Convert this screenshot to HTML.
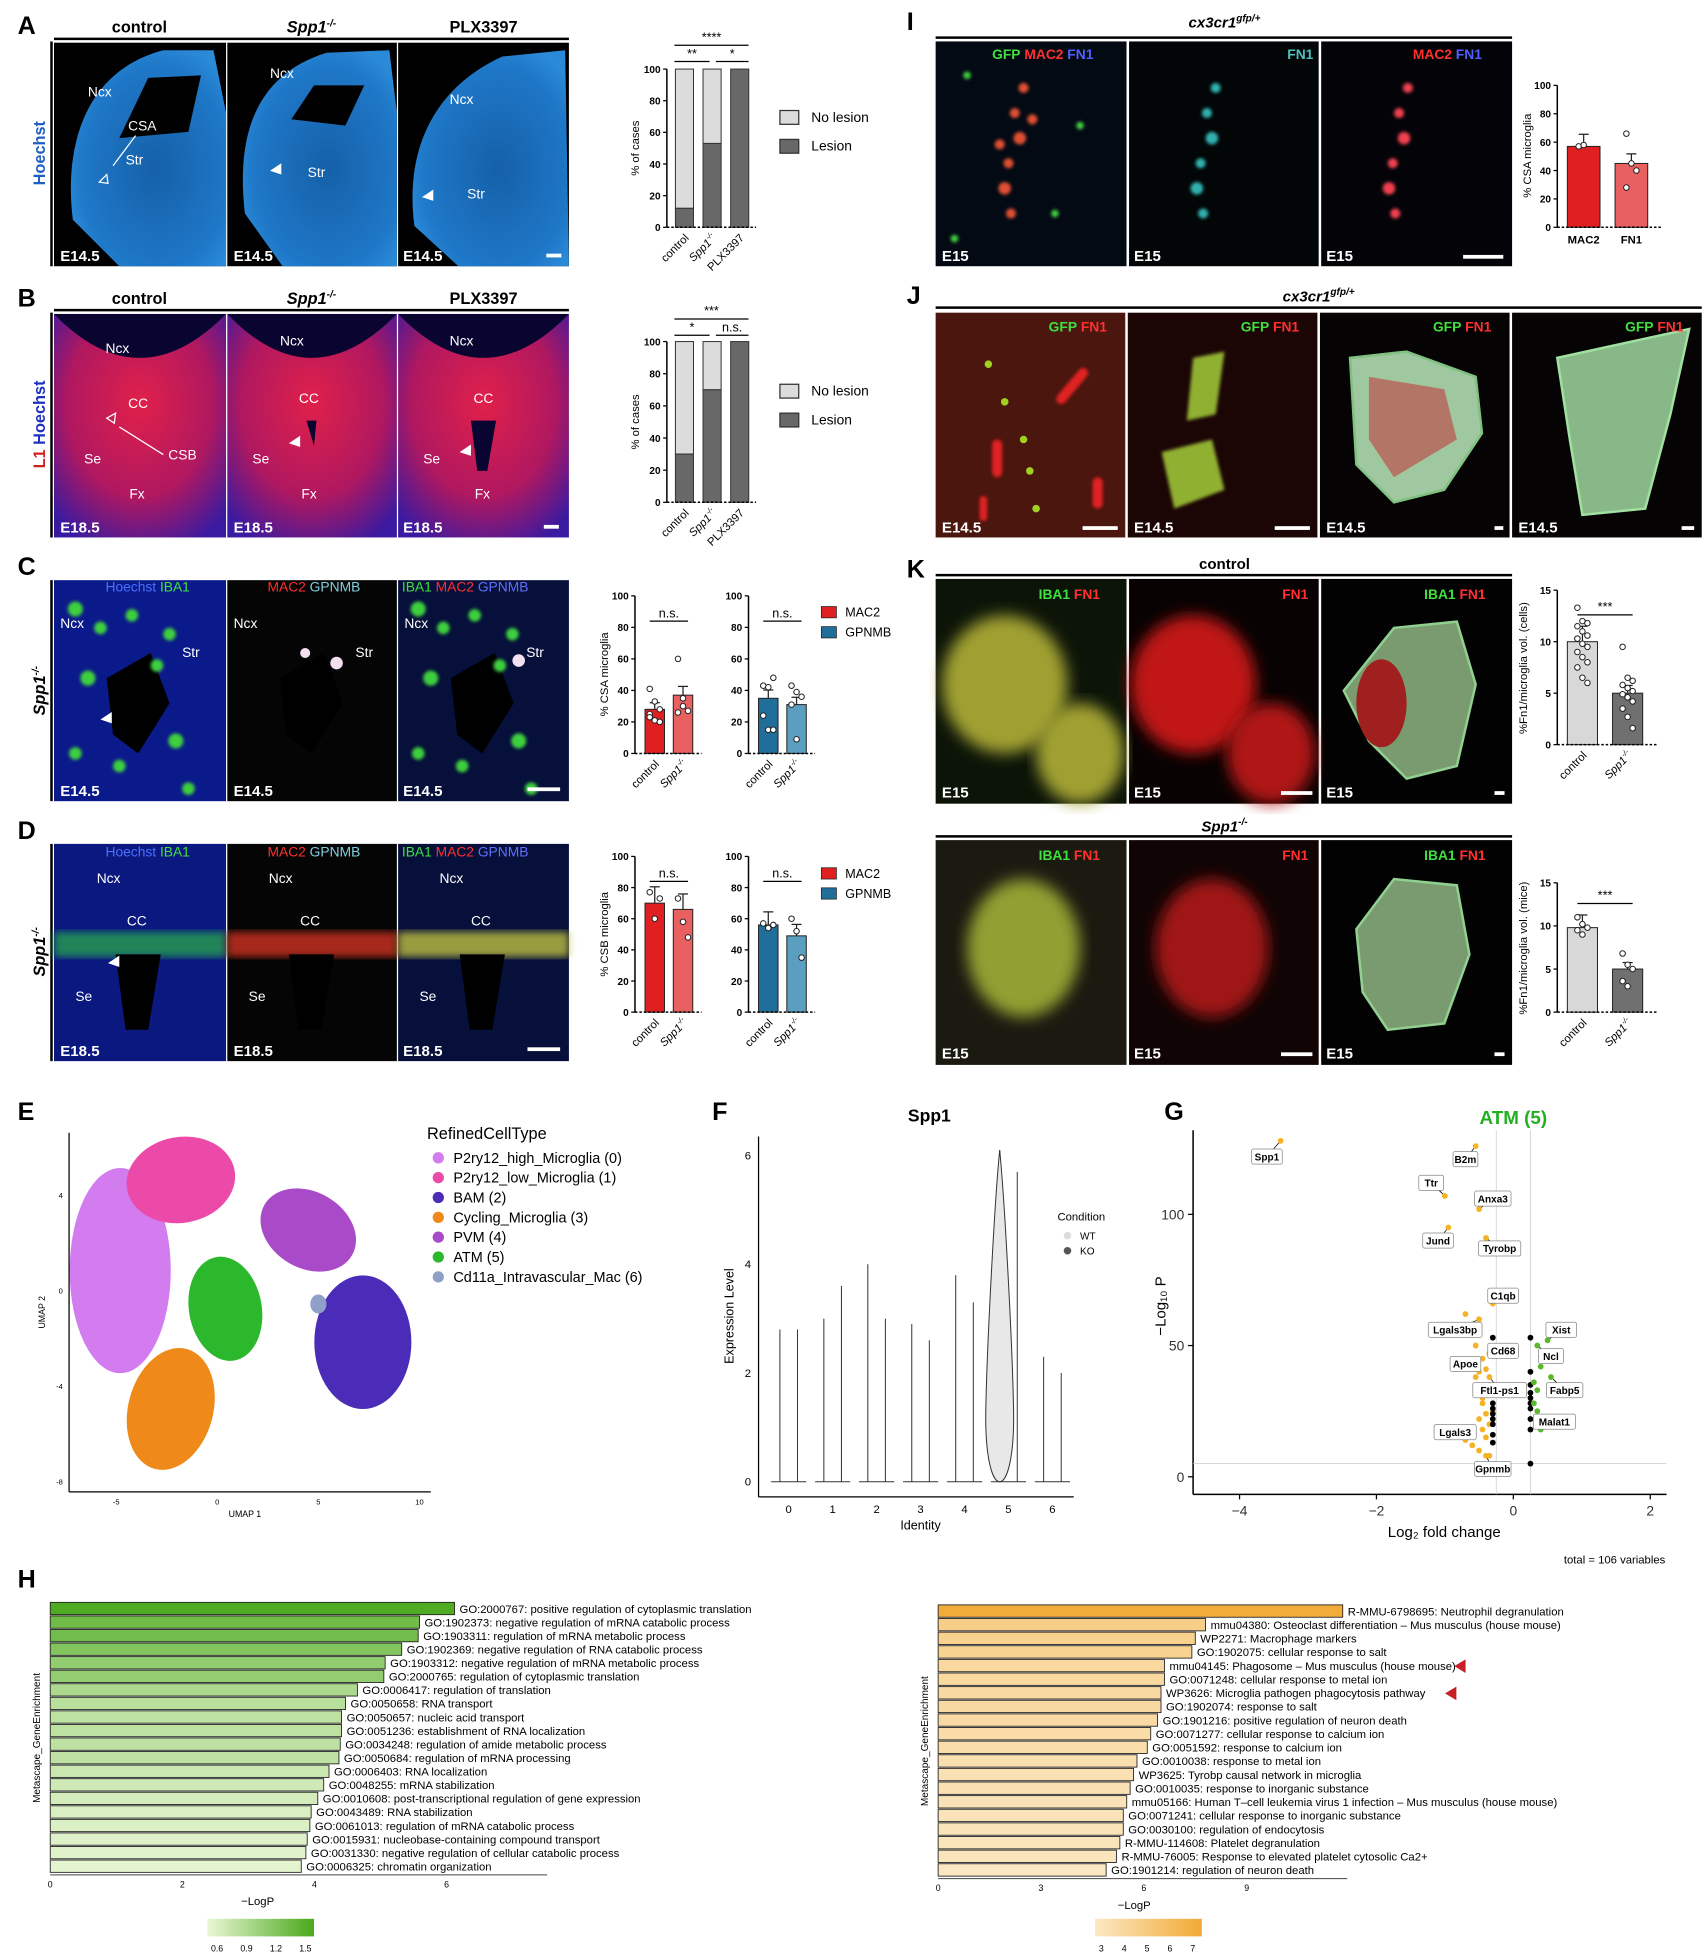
<!DOCTYPE html>
<html><head><meta charset="utf-8">
<style>
html,body{margin:0;padding:0;background:#fff;}
#fig{display:block;font-family:"Liberation Sans",Arial,sans-serif;}
text{font-family:"Liberation Sans",Arial,sans-serif;}
</style></head>
<body>
<svg id="fig" xmlns="http://www.w3.org/2000/svg" width="1708" height="1959" viewBox="0 0 1360 1560" preserveAspectRatio="none">
<defs>
<filter id="blur3"><feGaussianBlur stdDeviation="3"/></filter>
<filter id="blur6"><feGaussianBlur stdDeviation="6"/></filter>
<filter id="blur1"><feGaussianBlur stdDeviation="1.2"/></filter>
<linearGradient id="gG" x1="0" x2="1"><stop offset="0" stop-color="#eaf7d6"/><stop offset="1" stop-color="#4aa81c"/></linearGradient>
<linearGradient id="gO" x1="0" x2="1"><stop offset="0" stop-color="#fbe8c4"/><stop offset="1" stop-color="#f2aa35"/></linearGradient>
<radialGradient id="brainA" cx="0.55" cy="0.55" r="0.6"><stop offset="0" stop-color="#1560a8"/><stop offset="0.8" stop-color="#1f78c8"/><stop offset="1" stop-color="#2a8ad8"/></radialGradient>
<radialGradient id="brainB" cx="0.5" cy="0.4" r="0.7"><stop offset="0" stop-color="#e0204a"/><stop offset="0.6" stop-color="#b01860"/><stop offset="1" stop-color="#3a1aa0"/></radialGradient>
</defs>

<!-- ===== Panel A images ===== -->
<g>
<text x="14" y="27" font-size="20" font-weight="bold">A</text>
<text x="111" y="26" font-size="13" font-weight="bold" text-anchor="middle">control</text>
<text x="248" y="26" font-size="13" font-weight="bold" font-style="italic" text-anchor="middle">Spp1<tspan font-size="8" dy="-5">-/-</tspan></text>
<text x="385" y="26" font-size="13" font-weight="bold" text-anchor="middle">PLX3397</text>
<line x1="43" y1="31" x2="453" y2="31" stroke="#000" stroke-width="2"/>
<line x1="41" y1="33" x2="41" y2="212" stroke="#000" stroke-width="2"/>
<text transform="translate(36,122) rotate(-90)" font-size="13" font-weight="bold" fill="#2060c0" text-anchor="middle">Hoechst</text>
<rect x="43" y="34" width="137" height="178" fill="#000"/>
<rect x="181" y="34" width="135" height="178" fill="#000"/>
<rect x="317" y="34" width="136" height="178" fill="#000"/>
<path d="M58 175 C50 110 72 55 130 40 L170 40 L180 90 L180 212 L95 212 Z" fill="url(#brainA)"/>
<path d="M95 110 L118 62 L160 60 L150 105 Z" fill="#000"/>
<path d="M195 170 C188 110 202 60 260 42 L310 40 L316 90 L316 212 L225 212 Z" fill="url(#brainA)"/>
<path d="M232 95 L250 68 L290 68 L275 100 Z" fill="#000"/>
<path d="M330 180 C322 120 345 70 400 45 L450 40 L453 212 L365 212 Z" fill="url(#brainA)"/>
<g fill="#fff" font-size="11">
<text x="70" y="77">Ncx</text><text x="102" y="104">CSA</text><text x="100" y="131">Str</text>
<text x="215" y="62">Ncx</text><text x="245" y="141">Str</text>
<text x="358" y="83">Ncx</text><text x="372" y="158">Str</text>
<text x="48" y="208" font-weight="bold" font-size="12">E14.5</text>
<text x="186" y="208" font-weight="bold" font-size="12">E14.5</text>
<text x="321" y="208" font-weight="bold" font-size="12">E14.5</text>
</g>
<rect x="435" y="202" width="12" height="3" fill="#fff"/>
<line x1="108" y1="108" x2="90" y2="132" stroke="#fff"/>
<polygon points="79,145 85,139 86,146" fill="none" stroke="#fff"/>
<polygon points="215,136 224,130 224,139" fill="#fff"/>
<polygon points="336,157 345,151 345,160" fill="#fff"/>
</g>

<!-- ===== Panel B images ===== -->
<g>
<text x="14" y="244" font-size="20" font-weight="bold">B</text>
<text x="111" y="242" font-size="13" font-weight="bold" text-anchor="middle">control</text>
<text x="248" y="242" font-size="13" font-weight="bold" font-style="italic" text-anchor="middle">Spp1<tspan font-size="8" dy="-5">-/-</tspan></text>
<text x="385" y="242" font-size="13" font-weight="bold" text-anchor="middle">PLX3397</text>
<line x1="43" y1="247" x2="453" y2="247" stroke="#000" stroke-width="2"/>
<line x1="41" y1="249" x2="41" y2="428" stroke="#000" stroke-width="2"/>
<text transform="translate(36,338) rotate(-90)" font-size="13" font-weight="bold" text-anchor="middle"><tspan fill="#d02020">L1 </tspan><tspan fill="#2030c0">Hoechst</tspan></text>
<rect x="43" y="250" width="137" height="178" fill="url(#brainB)"/>
<rect x="181" y="250" width="135" height="178" fill="url(#brainB)"/>
<rect x="317" y="250" width="136" height="178" fill="url(#brainB)"/>
<g fill="#0a0530">
<path d="M43 250 Q111 320 180 250 Z"/><path d="M181 250 Q248 320 316 250 Z"/><path d="M317 250 Q385 320 453 250 Z"/>
<path d="M375 335 L395 335 L388 375 L380 375 Z"/>
<path d="M244 335 L252 335 L250 355 Z"/>
</g>
<g fill="#fff" font-size="11">
<text x="84" y="281">Ncx</text><text x="102" y="325">CC</text><text x="67" y="369">Se</text><text x="134" y="366">CSB</text><text x="103" y="397">Fx</text>
<text x="223" y="275">Ncx</text><text x="238" y="321">CC</text><text x="201" y="369">Se</text><text x="240" y="397">Fx</text>
<text x="358" y="275">Ncx</text><text x="377" y="321">CC</text><text x="337" y="369">Se</text><text x="378" y="397">Fx</text>
<text x="48" y="424" font-weight="bold" font-size="12">E18.5</text>
<text x="186" y="424" font-weight="bold" font-size="12">E18.5</text>
<text x="321" y="424" font-weight="bold" font-size="12">E18.5</text>
</g>
<line x1="130" y1="362" x2="95" y2="340" stroke="#fff"/>
<polygon points="85,333 92,329 91,337" fill="none" stroke="#fff"/>
<polygon points="230,353 239,347 239,356" fill="#fff"/>
<polygon points="366,360 375,354 375,363" fill="#fff"/>
<rect x="433" y="418" width="12" height="3" fill="#fff"/>
</g>

<!-- ===== Panel C/D images ===== -->
<g>
<text x="14" y="458" font-size="20" font-weight="bold">C</text>
<line x1="41" y1="462" x2="41" y2="638" stroke="#000" stroke-width="2"/>
<text transform="translate(36,550) rotate(-90)" font-size="13" font-weight="bold" font-style="italic" text-anchor="middle">Spp1<tspan font-size="8" dy="-5">-/-</tspan></text>
<rect x="43" y="462" width="137" height="176" fill="#0b1a8a"/>
<rect x="181" y="462" width="135" height="176" fill="#050505"/>
<rect x="317" y="462" width="136" height="176" fill="#06103a"/>
<path d="M85 540 L120 520 L135 560 L110 600 L90 585 Z" fill="#000"/>
<path d="M223 540 L258 520 L273 560 L248 600 L228 585 Z" fill="#000"/>
<path d="M359 540 L394 520 L409 560 L384 600 L364 585 Z" fill="#000"/>
<g fill="#3ccf3c" filter="url(#blur1)">
<circle cx="60" cy="485" r="6"/><circle cx="80" cy="500" r="5"/><circle cx="105" cy="490" r="5"/><circle cx="135" cy="505" r="5"/><circle cx="70" cy="540" r="6"/><circle cx="125" cy="530" r="5"/><circle cx="95" cy="610" r="5"/><circle cx="140" cy="590" r="6"/><circle cx="60" cy="600" r="5"/><circle cx="150" cy="628" r="5"/>
<circle cx="333" cy="485" r="6"/><circle cx="353" cy="500" r="5"/><circle cx="378" cy="490" r="5"/><circle cx="408" cy="505" r="5"/><circle cx="343" cy="540" r="6"/><circle cx="398" cy="530" r="5"/><circle cx="368" cy="610" r="5"/><circle cx="413" cy="590" r="6"/><circle cx="333" cy="600" r="5"/><circle cx="423" cy="628" r="5"/>
</g>
<g fill="#f0e0f0"><circle cx="268" cy="528" r="5"/><circle cx="243" cy="520" r="4"/><circle cx="413" cy="526" r="5"/></g>
<g fill="#fff" font-size="11">
<text x="84" y="471" fill="#4a70ff">Hoechst <tspan fill="#40e040">IBA1</tspan></text>
<text x="213" y="471" fill="#ff3030">MAC2 <tspan fill="#80d0e0">GPNMB</tspan></text>
<text x="320" y="471" fill="#40e040">IBA1 <tspan fill="#ff3030">MAC2</tspan> <tspan fill="#6070ff">GPNMB</tspan></text>
<text x="48" y="500">Ncx</text><text x="145" y="523">Str</text>
<text x="186" y="500">Ncx</text><text x="283" y="523">Str</text>
<text x="322" y="500">Ncx</text><text x="419" y="523">Str</text>
<text x="48" y="634" font-weight="bold" font-size="12">E14.5</text>
<text x="186" y="634" font-weight="bold" font-size="12">E14.5</text>
<text x="321" y="634" font-weight="bold" font-size="12">E14.5</text>
</g>
<polygon points="80,573 89,567 89,576" fill="#fff"/>
<rect x="420" y="627" width="26" height="3" fill="#fff"/>
</g>
<g>
<text x="14" y="668" font-size="20" font-weight="bold">D</text>
<line x1="41" y1="672" x2="41" y2="845" stroke="#000" stroke-width="2"/>
<text transform="translate(36,758) rotate(-90)" font-size="13" font-weight="bold" font-style="italic" text-anchor="middle">Spp1<tspan font-size="8" dy="-5">-/-</tspan></text>
<rect x="43" y="672" width="137" height="173" fill="#0a1880"/>
<rect x="181" y="672" width="135" height="173" fill="#050505"/>
<rect x="317" y="672" width="136" height="173" fill="#06103a"/>
<rect x="43" y="742" width="137" height="20" fill="#28a050" opacity="0.8" filter="url(#blur3)"/>
<rect x="181" y="742" width="135" height="20" fill="#d03020" opacity="0.8" filter="url(#blur3)"/>
<rect x="317" y="742" width="136" height="20" fill="#c0c040" opacity="0.8" filter="url(#blur3)"/>
<path d="M92 760 L128 760 L118 820 L100 820 Z" fill="#000"/>
<path d="M230 760 L266 760 L256 820 L238 820 Z" fill="#000"/>
<path d="M366 760 L402 760 L392 820 L374 820 Z" fill="#000"/>
<g fill="#fff" font-size="11">
<text x="84" y="682" fill="#4a70ff">Hoechst <tspan fill="#40e040">IBA1</tspan></text>
<text x="213" y="682" fill="#ff3030">MAC2 <tspan fill="#80d0e0">GPNMB</tspan></text>
<text x="320" y="682" fill="#40e040">IBA1 <tspan fill="#ff3030">MAC2</tspan> <tspan fill="#6070ff">GPNMB</tspan></text>
<text x="77" y="703">Ncx</text><text x="101" y="737">CC</text><text x="60" y="797">Se</text>
<text x="214" y="703">Ncx</text><text x="239" y="737">CC</text><text x="198" y="797">Se</text>
<text x="350" y="703">Ncx</text><text x="375" y="737">CC</text><text x="334" y="797">Se</text>
<text x="48" y="841" font-weight="bold" font-size="12">E18.5</text>
<text x="186" y="841" font-weight="bold" font-size="12">E18.5</text>
<text x="321" y="841" font-weight="bold" font-size="12">E18.5</text>
</g>
<polygon points="86,767 95,761 95,770" fill="#fff"/>
<rect x="420" y="834" width="26" height="3" fill="#fff"/>
</g>

<!-- ===== Panel I / J / K images ===== -->
<g>
<text x="722" y="24" font-size="20" font-weight="bold">I</text>
<text x="975" y="22" font-size="12" font-weight="bold" font-style="italic" text-anchor="middle">cx3cr1<tspan font-size="8" dy="-5">gfp/+</tspan></text>
<line x1="745" y1="30" x2="1204" y2="30" stroke="#000" stroke-width="2"/>
<rect x="745" y="33" width="152" height="179" fill="#040a14"/>
<rect x="899" y="33" width="151" height="179" fill="#020606"/>
<rect x="1052" y="33" width="152" height="179" fill="#040408"/>
<g filter="url(#blur1)">
<g fill="#e05030"><circle cx="815" cy="70" r="4"/><circle cx="808" cy="90" r="4"/><circle cx="812" cy="110" r="5"/><circle cx="803" cy="130" r="4"/><circle cx="800" cy="150" r="5"/><circle cx="805" cy="170" r="4"/><circle cx="822" cy="95" r="4"/><circle cx="796" cy="115" r="4"/></g>
<g fill="#40d040"><circle cx="770" cy="60" r="3"/><circle cx="860" cy="100" r="3"/><circle cx="840" cy="170" r="3"/><circle cx="760" cy="190" r="3"/></g>
<g fill="#30b0b0"><circle cx="968" cy="70" r="4"/><circle cx="961" cy="90" r="4"/><circle cx="965" cy="110" r="5"/><circle cx="956" cy="130" r="4"/><circle cx="953" cy="150" r="5"/><circle cx="958" cy="170" r="4"/></g>
<g fill="#f04050"><circle cx="1121" cy="70" r="4"/><circle cx="1114" cy="90" r="4"/><circle cx="1118" cy="110" r="5"/><circle cx="1109" cy="130" r="4"/><circle cx="1106" cy="150" r="5"/><circle cx="1111" cy="170" r="4"/></g>
</g>
<g font-size="11" font-weight="bold">
<text x="790" y="47"><tspan fill="#40e040">GFP</tspan> <tspan fill="#ff3030">MAC2</tspan> <tspan fill="#5060ff">FN1</tspan></text>
<text x="1025" y="47" fill="#50c0c0">FN1</text>
<text x="1125" y="47"><tspan fill="#ff3030">MAC2</tspan> <tspan fill="#5060ff">FN1</tspan></text>
<text x="750" y="208" fill="#fff" font-size="12">E15</text>
<text x="903" y="208" fill="#fff" font-size="12">E15</text>
<text x="1056" y="208" fill="#fff" font-size="12">E15</text>
</g>
<rect x="1165" y="203" width="32" height="3" fill="#fff"/>
</g>

<g>
<text x="722" y="242" font-size="20" font-weight="bold">J</text>
<text x="1050" y="240" font-size="12" font-weight="bold" font-style="italic" text-anchor="middle">cx3cr1<tspan font-size="8" dy="-5">gfp/+</tspan></text>
<line x1="745" y1="245" x2="1355" y2="245" stroke="#000" stroke-width="2"/>
<rect x="745" y="249" width="151" height="179" fill="#4a160e"/>
<rect x="898" y="249" width="151" height="179" fill="#1c0505"/>
<rect x="1051" y="249" width="151" height="179" fill="#050303"/>
<rect x="1204" y="249" width="151" height="179" fill="#050303"/>
<g fill="#e02020" filter="url(#blur1)"><rect x="790" y="350" width="8" height="30" rx="4"/><rect x="850" y="290" width="8" height="35" rx="4" transform="rotate(40 854 307)"/><rect x="780" y="395" width="6" height="20" rx="3"/><rect x="870" y="380" width="8" height="25" rx="4"/></g>
<g fill="#a0d020"><circle cx="787" cy="290" r="3"/><circle cx="800" cy="320" r="3"/><circle cx="815" cy="350" r="3"/><circle cx="820" cy="375" r="3"/><circle cx="825" cy="405" r="3"/></g>
<path d="M950 285 L975 280 L968 330 L945 335 Z" fill="#90b030" filter="url(#blur1)"/>
<path d="M925 360 L965 350 L975 390 L935 405 Z" fill="#90b030" filter="url(#blur1)"/>
<path d="M1075 285 L1120 280 L1175 300 L1180 345 L1150 390 L1110 400 L1080 370 Z" fill="#a0c8a0" stroke="#80c080" stroke-width="2"/>
<path d="M1090 300 L1150 310 L1160 350 L1110 380 L1090 350 Z" fill="#c04040" opacity="0.6"/>
<path d="M1240 285 L1345 262 L1330 330 L1310 405 L1260 410 L1250 350 Z" fill="#88b888" stroke="#a0e0a0" stroke-width="2"/>
<g font-size="11" font-weight="bold">
<text x="835" y="264"><tspan fill="#40e040">GFP</tspan> <tspan fill="#ff3030">FN1</tspan></text>
<text x="988" y="264"><tspan fill="#40e040">GFP</tspan> <tspan fill="#ff3030">FN1</tspan></text>
<text x="1141" y="264"><tspan fill="#40e040">GFP</tspan> <tspan fill="#ff3030">FN1</tspan></text>
<text x="1294" y="264"><tspan fill="#40e040">GFP</tspan> <tspan fill="#ff3030">FN1</tspan></text>
<text x="750" y="424" fill="#fff" font-size="12">E14.5</text>
<text x="903" y="424" fill="#fff" font-size="12">E14.5</text>
<text x="1056" y="424" fill="#fff" font-size="12">E14.5</text>
<text x="1209" y="424" fill="#fff" font-size="12">E14.5</text>
</g>
<rect x="862" y="419" width="28" height="3" fill="#fff"/><rect x="1015" y="419" width="28" height="3" fill="#fff"/><rect x="1190" y="419" width="7" height="3" fill="#fff"/><rect x="1339" y="419" width="10" height="3" fill="#fff"/>
</g>

<g>
<text x="722" y="460" font-size="20" font-weight="bold">K</text>
<text x="975" y="453" font-size="12" font-weight="bold" text-anchor="middle">control</text>
<line x1="745" y1="458" x2="1204" y2="458" stroke="#000" stroke-width="2"/>
<rect x="745" y="461" width="152" height="179" fill="#0c1408"/>
<rect x="899" y="461" width="151" height="179" fill="#080202"/>
<rect x="1052" y="461" width="152" height="179" fill="#020202"/>
<ellipse cx="800" cy="545" rx="50" ry="55" fill="#a0a030" filter="url(#blur6)"/>
<ellipse cx="860" cy="600" rx="35" ry="40" fill="#a0a030" filter="url(#blur6)"/>
<ellipse cx="950" cy="545" rx="50" ry="55" fill="#c01818" filter="url(#blur6)"/>
<ellipse cx="1012" cy="600" rx="35" ry="40" fill="#b01818" filter="url(#blur6)"/>
<path d="M1070 550 L1110 500 L1160 495 L1175 545 L1160 610 L1120 620 L1090 590 Z" fill="#7a9a70" stroke="#90d090" stroke-width="2"/>
<ellipse cx="1100" cy="560" rx="20" ry="35" fill="#a02020"/>
<g font-size="11" font-weight="bold">
<text x="827" y="477"><tspan fill="#40e040">IBA1</tspan> <tspan fill="#ff3030">FN1</tspan></text>
<text x="1021" y="477" fill="#ff3030">FN1</text>
<text x="1134" y="477"><tspan fill="#40e040">IBA1</tspan> <tspan fill="#ff3030">FN1</tspan></text>
<text x="750" y="635" fill="#fff" font-size="12">E15</text>
<text x="903" y="635" fill="#fff" font-size="12">E15</text>
<text x="1056" y="635" fill="#fff" font-size="12">E15</text>
</g>
<rect x="1020" y="630" width="25" height="3" fill="#fff"/><rect x="1190" y="630" width="8" height="3" fill="#fff"/>
<text x="975" y="662" font-size="12" font-weight="bold" font-style="italic" text-anchor="middle">Spp1<tspan font-size="8" dy="-5">-/-</tspan></text>
<line x1="745" y1="666" x2="1204" y2="666" stroke="#000" stroke-width="2"/>
<rect x="745" y="669" width="152" height="179" fill="#1a1a10"/>
<rect x="899" y="669" width="151" height="179" fill="#100404"/>
<rect x="1052" y="669" width="152" height="179" fill="#020202"/>
<ellipse cx="815" cy="755" rx="45" ry="55" fill="#90a030" filter="url(#blur6)"/>
<ellipse cx="965" cy="755" rx="45" ry="55" fill="#a01818" filter="url(#blur6)"/>
<path d="M1080 740 L1110 700 L1160 705 L1170 760 L1150 815 L1105 820 L1085 790 Z" fill="#7a9a70" stroke="#90d090" stroke-width="2"/>
<g font-size="11" font-weight="bold">
<text x="827" y="685"><tspan fill="#40e040">IBA1</tspan> <tspan fill="#ff3030">FN1</tspan></text>
<text x="1021" y="685" fill="#ff3030">FN1</text>
<text x="1134" y="685"><tspan fill="#40e040">IBA1</tspan> <tspan fill="#ff3030">FN1</tspan></text>
<text x="750" y="843" fill="#fff" font-size="12">E15</text>
<text x="903" y="843" fill="#fff" font-size="12">E15</text>
<text x="1056" y="843" fill="#fff" font-size="12">E15</text>
</g>
<rect x="1020" y="838" width="25" height="3" fill="#fff"/><rect x="1190" y="838" width="8" height="3" fill="#fff"/>
</g>

<text x="14" y="892" font-size="20" font-weight="bold">E</text>
<text x="567" y="892" font-size="20" font-weight="bold">F</text>
<text x="927" y="892" font-size="20" font-weight="bold">G</text>
<text x="14" y="1264" font-size="20" font-weight="bold">H</text>

<g id="charts"></g>
</svg>

<script>
// ---------- DATA ----------
const stackCats = ['control', 'Spp1-/-', 'PLX3397'];
const lesionA = [12, 53, 100];
const lesionB = [30, 70, 100];
const pctTicks = [0, 20, 40, 60, 80, 100];

const csaCats = ['control', 'Spp1-/-'];
const csaMac2 = [28, 37];
const csaGpnmb = [35, 31];
const csbMac2 = [70, 66];
const csbGpnmb = [56, 49];
const csaMac2Pts = [[41,33,28,25,21,20,23],[60,30,27,26,35]];
const csaGpnmbPts = [[43,42,48,24,15,15],[43,39,36,31,9]];
const csbMac2Pts = [[77,60,73],[73,58,48]];
const csbGpnmbPts = [[57,54,56],[60,52,35]];

const iCats = ['MAC2', 'FN1'];
const iVals = [57, 45];
const iPts = [[57,58],[66,45,40,28]];

const kCats = ['control', 'Spp1-/-'];
const kCellVals = [10, 5];
const kMiceVals = [9.8, 5.0];
const kTicks = [0, 5, 10, 15];
const kCellPts = [[13.3,12.0,11.8,11.5,11.0,10.6,10.3,9.8,9.5,9.0,8.5,8.0,7.5,6.5,6.0],[9.5,6.5,6.2,5.8,5.5,5.2,4.9,4.6,4.2,3.5,2.7,1.6]];
const kMicePts = [[11,10.2,9.8,9.5,9.0],[6.8,5.5,5.0,3.6,3.0]];

const umapNames = ['P2ry12_high_Microglia (0)','P2ry12_low_Microglia  (1)','BAM  (2)','Cycling_Microglia (3)','PVM  (4)','ATM   (5)','Cd11a_Intravascular_Mac (6)'];
const umapColors = ['#d27cf0','#ec4aa8','#4a2cb8','#ef8a1a','#a94ac8','#2cb82c','#8fa0c8'];
const umapCx = [-4.8, -1.8, 7.2, -2.3, 4.5, 0.4, 5.0];
const umapCy = [0.8, 4.6, -2.2, -5.0, 2.5, -0.8, -0.6];
const umapRx = [2.5, 2.7, 2.4, 2.1, 2.5, 1.8, 0.4];
const umapRy = [4.3, 1.8, 2.8, 2.6, 1.6, 2.2, 0.4];
const umapRot = [0, -10, 0, 15, 30, -10, 0];

const violinGroups = ['0','1','2','3','4','5','6'];
const violinWT = [2.8, 3.0, 4.0, 2.9, 3.8, 6.1, 2.3];
const violinKO = [2.8, 3.6, 3.0, 2.6, 3.3, 5.7, 2.0];

const volGenes = ['Spp1','B2m','Ttr','Anxa3','Jund','Tyrobp','C1qb','Lgals3bp','Cd68','Apoe','Ftl1-ps1','Lgals3','Gpnmb','Xist','Ncl','Fabp5','Malat1'];
const volFC = [-3.4,-0.55,-1.0,-0.5,-0.95,-0.4,-0.3,-0.5,-0.35,-0.5,-0.35,-0.7,-0.4,0.5,0.35,0.55,0.4];
const volP = [128,126,107,102,95,91,66,60,47,40,38,14,8,52,50,38,18];
const volLx = [-3.6,-0.7,-1.2,-0.3,-1.1,-0.2,-0.15,-0.85,-0.15,-0.7,-0.2,-0.85,-0.3,0.7,0.55,0.75,0.6];
const volLy = [122,121,112,106,90,87,69,56,48,43,33,17,3,56,46,33,21];
const volOtherFC = [-0.7,-0.6,-0.5,-0.8,-0.55,-0.45,-0.6,-0.4,-0.55,-0.35,-0.45,-0.3,-0.5,-0.35,-0.45,-0.4,-0.6,-0.5,-0.35,-0.45,-0.4,-0.3,-0.3,-0.3,-0.3,-0.3,-0.3,-0.3,-0.3,-0.3,0.25,0.25,0.25,0.25,0.25,0.25,0.25,0.25,0.25,0.3,0.3,0.35,0.4,0.35,0.25];
const volOtherP = [62,58,60,45,50,45,42,41,38,35,30,25,22,20,18,15,12,10,8,28,24,53,32,28,26,24,22,20,16,13,53,40,35,32,30,28,26,22,18,36,28,33,42,25,5];
const volOtherCol = ['o','o','o','o','o','o','o','o','o','o','o','o','o','o','o','o','o','o','o','o','o','k','k','k','k','k','k','k','k','k','k','k','k','k','k','k','k','k','k','g','g','g','g','g','k'];
const volXTicks = [-4, -2, 0, 2];
const volYTicks = [0, 50, 100];

const goLeftTerms = ['GO:2000767: positive regulation of cytoplasmic translation','GO:1902373: negative regulation of mRNA catabolic process','GO:1903311: regulation of mRNA metabolic process','GO:1902369: negative regulation of RNA catabolic process','GO:1903312: negative regulation of mRNA metabolic process','GO:2000765: regulation of cytoplasmic translation','GO:0006417: regulation of translation','GO:0050658: RNA transport','GO:0050657: nucleic acid transport','GO:0051236: establishment of RNA localization','GO:0034248: regulation of amide metabolic process','GO:0050684: regulation of mRNA processing','GO:0006403: RNA localization','GO:0048255: mRNA stabilization','GO:0010608: post-transcriptional regulation of gene expression','GO:0043489: RNA stabilization','GO:0061013: regulation of mRNA catabolic process','GO:0015931: nucleobase-containing compound transport','GO:0031330: negative regulation of cellular catabolic process','GO:0006325: chromatin organization'];
const goLeftVals = [6.12,5.59,5.57,5.32,5.07,5.05,4.65,4.47,4.41,4.41,4.39,4.37,4.22,4.14,4.05,3.95,3.93,3.89,3.87,3.80];
const goLeftTicks = [0, 2, 4, 6];
const goRightTerms = ['R-MMU-6798695: Neutrophil degranulation','mmu04380: Osteoclast differentiation \u2013 Mus musculus (house mouse)','WP2271: Macrophage markers','GO:1902075: cellular response to salt','mmu04145: Phagosome \u2013 Mus musculus (house mouse)','GO:0071248: cellular response to metal ion','WP3626: Microglia pathogen phagocytosis pathway','GO:1902074: response to salt','GO:1901216: positive regulation of neuron death','GO:0071277: cellular response to calcium ion','GO:0051592: response to calcium ion','GO:0010038: response to metal ion','WP3625: Tyrobp causal network in microglia','GO:0010035: response to inorganic substance','mmu05166: Human T\u2013cell leukemia virus 1 infection \u2013 Mus musculus (house mouse)','GO:0071241: cellular response to inorganic substance','GO:0030100: regulation of endocytosis','R-MMU-114608: Platelet degranulation','R-MMU-76005: Response to elevated platelet cytosolic Ca2+','GO:1901214: regulation of neuron death'];
const goRightVals = [11.8,7.8,7.5,7.4,6.6,6.6,6.5,6.5,6.4,6.2,6.1,5.8,5.7,5.6,5.5,5.4,5.4,5.3,5.2,4.9];
const goRightMarked = [4, 6];
const goRightTicks = [0, 3, 6, 9];

// ---------- HELPERS ----------
const NS = 'http://www.w3.org/2000/svg';
const root = document.getElementById('charts');
function mk(tag, attrs, parent) {
  const e = document.createElementNS(NS, tag);
  for (const k in attrs) e.setAttribute(k, attrs[k]);
  (parent || root).appendChild(e);
  return e;
}
function txt(x, y, s, attrs, parent) {
  const t = mk('text', Object.assign({x: x, y: y}, attrs || {}), parent);
  t.textContent = s;
  return t;
}
function catLabel(x, y, s, g) {
  const t = mk('text', {transform: 'translate(' + x + ',' + y + ') rotate(-45)', 'font-size': 9, 'text-anchor': 'end'}, g);
  if (s.indexOf('Spp1') === 0) { t.setAttribute('font-style', 'italic'); t.textContent = 'Spp1'; const sp = mk('tspan', {'font-size': 6, dy: -4}, t); sp.textContent = '-/-'; }
  else t.textContent = s;
  
  
}
function yAxis(g, x, y0, yTop, ticks, max, fs) {
  mk('line', {x1: x, y1: y0, x2: x, y2: yTop, stroke: '#000', 'stroke-width': 1.2}, g);
  ticks.forEach(function (t) {
    const y = y0 - t / max * (y0 - yTop);
    mk('line', {x1: x - 3, y1: y, x2: x, y2: y, stroke: '#000'}, g);
    const l = txt(x - 5, y + 3, String(t), {'font-size': fs || 8, 'text-anchor': 'end', 'font-weight': 'bold'}, g);
    
    
  });
}
function sigBar(g, x1, x2, y, label) {
  mk('line', {x1: x1, y1: y, x2: x2, y2: y, stroke: '#000', 'stroke-width': 1}, g);
  txt((x1 + x2) / 2, y - 3, label, {'font-size': 10, 'text-anchor': 'middle'}, g);
}

// ---------- STACKED CHARTS (A, B) ----------
function stackChart(name, lesion, y0, yTop, sigs) {
  const g = mk('g', {});
  
  
  const ax = 531;
  const yS = v => y0 - v / 100 * (y0 - yTop);
  const centers = [545, 567, 589];
  stackCats.forEach(function (c, i) {
    const bx = centers[i] - 7.2;
    const r1 = mk('rect', {x: bx, y: yS(100), width: 14.4, height: yS(lesion[i]) - yS(100), fill: '#dcdcdc', stroke: '#333', 'stroke-width': 0.8}, g);
    
    
    const r2 = mk('rect', {x: bx, y: yS(lesion[i]), width: 14.4, height: y0 - yS(lesion[i]), fill: '#686868', stroke: '#333', 'stroke-width': 0.8}, g);
    
    
    catLabel(centers[i] + 4, y0 + 9, c, g);
  });
  yAxis(g, ax, y0, yTop, pctTicks, 100);
  mk('line', {x1: ax, y1: y0, x2: 602, y2: y0, stroke: '#000', 'stroke-width': 1.2, 'stroke-dasharray': '2,1.5'}, g);
  txt(0, 0, '% of cases', {'font-size': 9, 'text-anchor': 'middle', transform: 'translate(' + (ax - 22) + ',' + ((y0 + yTop) / 2) + ') rotate(-90)'}, g);
  sigs.forEach(s => sigBar(g, s[0], s[1], s[2], s[3]));
  const lb1 = mk('rect', {x: 621, y: (y0 + yTop) / 2 - 30, width: 15, height: 11, fill: '#dcdcdc', stroke: '#333'}, g);
  
  
  txt(646, (y0 + yTop) / 2 - 21, 'No lesion', {'font-size': 11}, g);
  const lb2 = mk('rect', {x: 621, y: (y0 + yTop) / 2 - 7, width: 15, height: 11, fill: '#686868', stroke: '#333'}, g);
  
  
  txt(646, (y0 + yTop) / 2 + 2, 'Lesion', {'font-size': 11}, g);
}
stackChart('chart-a-lesion', lesionA, 181, 55, [[537,596,36,'****'],[537,565,49,'**'],[570,596,49,'*']]);
stackChart('chart-b-lesion', lesionB, 400, 272, [[537,596,254,'***'],[537,565,267,'*'],[570,596,267,'n.s.']]);

// ---------- BAR + DOT CHARTS ----------
function dotChart(name, ax, y0, yTop, vals, pts, colors, ticks, max, barW, gap, sigLbl, cats, labelCats) {
  const g = mk('g', {});
  
  
  const yS = v => y0 - v / max * (y0 - yTop);
  vals.forEach(function (v, i) {
    const bx = ax + 8 + i * (barW + gap);
    const r = mk('rect', {x: bx, y: yS(v), width: barW, height: y0 - yS(v), fill: colors[i], stroke: '#222', 'stroke-width': 0.8}, g);
    
    
    const cx = bx + barW / 2;
    mk('line', {x1: cx, y1: yS(v), x2: cx, y2: yS(v * 1.15), stroke: '#222'}, g);
    mk('line', {x1: cx - 4, y1: yS(v * 1.15), x2: cx + 4, y2: yS(v * 1.15), stroke: '#222'}, g);
    pts[i].forEach(function (p, j) {
      const c = mk('circle', {cx: cx + ((j % 3) - 1) * 4, cy: yS(p), r: 2.2, fill: '#fff', stroke: '#222', 'stroke-width': 0.8}, g);
      
      
    });
    if (labelCats) catLabel(cx + 4, y0 + 9, labelCats[i], g);
  });
  yAxis(g, ax, y0, yTop, ticks, max);
  mk('line', {x1: ax, y1: y0, x2: ax + 8 + vals.length * (barW + gap), y2: y0, stroke: '#000', 'stroke-width': 1.2, 'stroke-dasharray': '2,1.5'}, g);
  if (sigLbl) sigBar(g, ax + 8 + barW / 2 - 4, ax + 8 + (barW + gap) + barW / 2 + 4, yS(max * 0.84), sigLbl);
  return g;
}
dotChart('chart-c-mac2', 505.6, 600, 474.5, csaMac2, csaMac2Pts, ['#e02020', '#e86060'], pctTicks, 100, 15.5, 7, 'n.s.', ['mac2-control','mac2-spp1'], csaCats);
dotChart('chart-c-gpnmb', 596, 600, 474.5, csaGpnmb, csaGpnmbPts, ['#1f6f9a', '#5a9ec0'], pctTicks, 100, 15.5, 7, 'n.s.', ['gpnmb-control','gpnmb-spp1'], csaCats);
dotChart('chart-d-mac2', 505.6, 806, 682, csbMac2, csbMac2Pts, ['#e02020', '#e86060'], pctTicks, 100, 15.5, 7, 'n.s.', ['mac2-control','mac2-spp1'], csaCats);
dotChart('chart-d-gpnmb', 596, 806, 682, csbGpnmb, csbGpnmbPts, ['#1f6f9a', '#5a9ec0'], pctTicks, 100, 15.5, 7, 'n.s.', ['gpnmb-control','gpnmb-spp1'], csaCats);
txt(0, 0, '% CSA microglia', {'font-size': 9, 'text-anchor': 'middle', transform: 'translate(484,537) rotate(-90)'});
txt(0, 0, '% CSB microglia', {'font-size': 9, 'text-anchor': 'middle', transform: 'translate(484,744) rotate(-90)'});
[[483, 'MAC2', '#e02020'], [499, 'GPNMB', '#1f6f9a'], [691, 'MAC2', '#e02020'], [707, 'GPNMB', '#1f6f9a']].forEach(function (l) {
  const r = mk('rect', {x: 654, y: l[0], width: 12, height: 9, fill: l[2], stroke: '#222', 'stroke-width': 0.6});
  
  
  txt(673, l[0] + 8, l[1], {'font-size': 10});
});

dotChart('chart-i', 1240, 181, 68, iVals, iPts, ['#e02020', '#e86060'], pctTicks, 100, 26, 12, null, ['mac2','fn1'], null);
txt(0, 0, '% CSA microglia', {'font-size': 9, 'text-anchor': 'middle', transform: 'translate(1219,124) rotate(-90)'});
iCats.forEach((c, i) => txt(1261 + i * 38, 194, c, {'font-size': 9, 'font-weight': 'bold', 'text-anchor': 'middle'}));

dotChart('chart-k-cells', 1240, 593, 470, kCellVals, kCellPts, ['#d8d8d8', '#707070'], kTicks, 15, 24, 12, '***', ['control','spp1'], kCats);
txt(0, 0, '%Fn1/microglia vol. (cells)', {'font-size': 9, 'text-anchor': 'middle', transform: 'translate(1216,532) rotate(-90)'});
dotChart('chart-k-mice', 1240, 806, 703, kMiceVals, kMicePts, ['#d8d8d8', '#707070'], kTicks, 15, 24, 12, '***', ['control','spp1'], kCats);
txt(0, 0, '%Fn1/microglia vol. (mice)', {'font-size': 9, 'text-anchor': 'middle', transform: 'translate(1216,755) rotate(-90)'});

// ---------- UMAP (E) ----------
(function () {
  const g = mk('g', {});
  
  
  const xS = v => 173 + v * 16.1;
  const yS = v => 1027 - v * 19;
  umapNames.forEach(function (n, i) {
    const e = mk('ellipse', {cx: xS(umapCx[i]), cy: yS(umapCy[i]), rx: umapRx[i] * 16.1, ry: umapRy[i] * 19, fill: umapColors[i], transform: 'rotate(' + umapRot[i] + ' ' + xS(umapCx[i]) + ' ' + yS(umapCy[i]) + ')'}, g);
    
    
    const ly = 926 + i * 15.8;
    const d = mk('circle', {cx: 349, cy: ly - 4, r: 4.5, fill: umapColors[i]}, g);
    
    
    txt(361, ly, n, {'font-size': 11.5}, g);
  });
  txt(340, 907, 'RefinedCellType', {'font-size': 13}, g);
  mk('line', {x1: 55, y1: 902, x2: 55, y2: 1188, stroke: '#000'}, g);
  mk('line', {x1: 55, y1: 1188, x2: 343, y2: 1188, stroke: '#000'}, g);
  [-8, -4, 0, 4].forEach(t => txt(50, yS(t) + 3, String(t), {'font-size': 6, 'text-anchor': 'end'}, g));
  [-5, 0, 5, 10].forEach(t => txt(xS(t), 1198, String(t), {'font-size': 6, 'text-anchor': 'middle'}, g));
  txt(195, 1208, 'UMAP 1', {'font-size': 7, 'text-anchor': 'middle'}, g);
  txt(0, 0, 'UMAP 2', {'font-size': 7, 'text-anchor': 'middle', transform: 'translate(36,1045) rotate(-90)'}, g);
})();

// ---------- Violin (F) ----------
(function () {
  const g = mk('g', {});
  
  
  const xS = i => 628 + i * 35;
  const yS = v => 1180 - v * 43.3;
  txt(740, 893, 'Spp1', {'font-size': 14, 'font-weight': 'bold', 'text-anchor': 'middle'}, g);
  mk('line', {x1: 604, y1: 905, x2: 604, y2: 1192, stroke: '#000'}, g);
  mk('line', {x1: 604, y1: 1192, x2: 855, y2: 1192, stroke: '#000'}, g);
  [0, 2, 4, 6].forEach(t => txt(598, yS(t) + 3, String(t), {'font-size': 9, 'text-anchor': 'end'}, g));
  violinGroups.forEach(function (c, i) {
    txt(xS(i), 1205, c, {'font-size': 9, 'text-anchor': 'middle'}, g);
    const a = mk('line', {x1: xS(i) - 7, y1: yS(0), x2: xS(i) - 7, y2: yS(violinWT[i]), stroke: '#333', 'stroke-width': 0.8}, g);
    
    
    const b = mk('line', {x1: xS(i) + 7, y1: yS(0), x2: xS(i) + 7, y2: yS(violinKO[i]), stroke: '#333', 'stroke-width': 0.8}, g);
    
    
    mk('line', {x1: xS(i) - 14, y1: yS(0), x2: xS(i) + 14, y2: yS(0), stroke: '#333', 'stroke-width': 0.8}, g);
  });
  const cx = xS(5) - 7, top = yS(violinWT[5]), bot = yS(0);
  const v = mk('path', {d: 'M' + cx + ' ' + top + ' C' + (cx + 4) + ' ' + (top + 40) + ' ' + (cx + 10) + ' ' + (bot - 110) + ' ' + (cx + 11) + ' ' + (bot - 60) + ' C' + (cx + 12) + ' ' + (bot - 20) + ' ' + (cx + 6) + ' ' + bot + ' ' + cx + ' ' + bot + ' C' + (cx - 6) + ' ' + bot + ' ' + (cx - 12) + ' ' + (bot - 20) + ' ' + (cx - 11) + ' ' + (bot - 60) + ' C' + (cx - 10) + ' ' + (bot - 110) + ' ' + (cx - 4) + ' ' + (top + 40) + ' ' + cx + ' ' + top + 'Z', fill: '#e8e8e8', stroke: '#333', 'stroke-width': 0.8}, g);
  
  
  txt(733, 1218, 'Identity', {'font-size': 10, 'text-anchor': 'middle'}, g);
  txt(0, 0, 'Expression Level', {'font-size': 10, 'text-anchor': 'middle', transform: 'translate(584,1048) rotate(-90)'}, g);
  txt(842, 972, 'Condition', {'font-size': 9}, g);
  mk('circle', {cx: 850, cy: 984, r: 3, fill: '#ddd'}, g); txt(860, 987, 'WT', {'font-size': 8}, g);
  mk('circle', {cx: 850, cy: 996, r: 3, fill: '#555'}, g); txt(860, 999, 'KO', {'font-size': 8}, g);
})();

// ---------- Volcano (G) ----------
(function () {
  const g = mk('g', {});
  
  
  const xS = v => 1205 + v * 54.5;
  const yS = v => 1176 - v * 2.09;
  txt(1205, 895, 'ATM (5)', {'font-size': 15, 'font-weight': 'bold', fill: '#22b022', 'text-anchor': 'middle'}, g);
  mk('line', {x1: 950, y1: 900, x2: 950, y2: 1190, stroke: '#000', 'stroke-width': 1.2}, g);
  mk('line', {x1: 950, y1: 1190, x2: 1327, y2: 1190, stroke: '#000', 'stroke-width': 1.2}, g);
  mk('line', {x1: xS(-0.25), y1: 900, x2: xS(-0.25), y2: 1190, stroke: '#ccc', 'stroke-width': 0.6}, g);
  mk('line', {x1: xS(0.25), y1: 900, x2: xS(0.25), y2: 1190, stroke: '#ccc', 'stroke-width': 0.6}, g);
  mk('line', {x1: 950, y1: yS(5), x2: 1327, y2: yS(5), stroke: '#ccc', 'stroke-width': 0.6}, g);
  volXTicks.forEach(function (t) {
    mk('line', {x1: xS(t), y1: 1190, x2: xS(t), y2: 1194, stroke: '#000'}, g);
    txt(xS(t), 1207, t < 0 ? '\u2212' + (-t) : String(t), {'font-size': 11, 'text-anchor': 'middle', fill: '#333'}, g);
  });
  volYTicks.forEach(function (t) {
    mk('line', {x1: 946, y1: yS(t), x2: 950, y2: yS(t), stroke: '#000'}, g);
    txt(943, yS(t) + 4, String(t), {'font-size': 11, 'text-anchor': 'end', fill: '#333'}, g);
  });
  txt(1150, 1224, 'Log\u2082 fold change', {'font-size': 12, 'text-anchor': 'middle'}, g);
  txt(0, 0, '\u2212Log\u2081\u2080 P', {'font-size': 12, 'text-anchor': 'middle', transform: 'translate(928,1040) rotate(-90)'}, g);
  txt(1326, 1245, 'total = 106 variables', {'font-size': 9, 'text-anchor': 'end'}, g);
  const colMap = {o: '#f5b324', k: '#000', g: '#5ab82a'};
  volOtherFC.forEach(function (fc, i) {
    const c = mk('circle', {cx: xS(fc), cy: yS(volOtherP[i]), r: 2.3, fill: colMap[volOtherCol[i]]}, g);
    
    
  });
  volGenes.forEach(function (gn, i) {
    const px = xS(volFC[i]), py = yS(volP[i]);
    const lx = xS(volLx[i]), ly = yS(volLy[i]);
    mk('line', {x1: px, y1: py, x2: lx, y2: ly, stroke: '#000', 'stroke-width': 0.6}, g);
    const c = mk('circle', {cx: px, cy: py, r: 2.3, fill: volFC[i] < 0 ? '#f5b324' : '#5ab82a'}, g);
    
    
    const w = gn.length * 4.6 + 6;
    mk('rect', {x: lx - w / 2, y: ly - 6, width: w, height: 12, fill: '#fff', stroke: '#888', 'stroke-width': 0.6, rx: 1.5}, g);
    const t = txt(lx, ly + 3, gn, {'font-size': 8, 'font-weight': 'bold', 'text-anchor': 'middle'}, g);
    
    
  });
})();

// ---------- GO bars (H) ----------
function goChart(name, x0, pxPer, terms, vals, ticks, lowCol, highCol, vmin, vmax, marked, yTop, step, cbX, cbTicks, cbGrad, logpX) {
  const g = mk('g', {});
  
  
  function lerp(a, b, t) { return Math.round(a + (b - a) * t); }
  function hex(c) { return [parseInt(c.slice(1, 3), 16), parseInt(c.slice(3, 5), 16), parseInt(c.slice(5, 7), 16)]; }
  const lo = hex(lowCol), hi = hex(highCol);
  terms.forEach(function (term, i) {
    const v = vals[i];
    const t = Math.max(0, Math.min(1, (v - vmin) / (vmax - vmin)));
    const col = 'rgb(' + lerp(lo[0], hi[0], t) + ',' + lerp(lo[1], hi[1], t) + ',' + lerp(lo[2], hi[2], t) + ')';
    const y = yTop + i * step;
    const r = mk('rect', {x: x0, y: y, width: v * pxPer, height: step - 1, fill: col, stroke: '#222', 'stroke-width': 0.7}, g);
    
    
    const tl = txt(x0 + v * pxPer + 4, y + step - 2.5, term, {'font-size': 9}, g);
    
    
    if (marked.indexOf(i) >= 0) {
      const endX = x0 + v * pxPer + 6 + term.length * 4.6;
      mk('polygon', {points: (endX + 4) + ',' + (y + step / 2) + ' ' + (endX + 13) + ',' + (y) + ' ' + (endX + 13) + ',' + (y + step), fill: '#c81e28'}, g);
    }
  });
  const yB = yTop + terms.length * step + 1;
  mk('line', {x1: x0, y1: yB, x2: x0 + ticks[ticks.length - 1] * pxPer + 80, y2: yB, stroke: '#444', 'stroke-width': 0.8}, g);
  ticks.forEach(function (t) {
    const l = txt(x0 + t * pxPer, yB + 10, String(t), {'font-size': 7, 'text-anchor': 'middle'}, g);
    
    
  });
  txt(logpX, yB + 24, '\u2212LogP', {'font-size': 9}, g);
  txt(0, 0, 'Metascape_GeneEnrichment', {'font-size': 8, 'text-anchor': 'middle', transform: 'translate(' + (x0 - 8) + ',' + (yTop + terms.length * step / 2) + ') rotate(-90)'}, g);
  const cb = mk('rect', {x: cbX, y: 1528, width: 85, height: 14, fill: cbGrad}, g);
  
  
  cbTicks.forEach((t, i) => txt(cbX + 3 + i * (82 / (cbTicks.length - 0.5)), 1554, t, {'font-size': 7}, g));
}
goChart('go-chart-left', 40, 52.6, goLeftTerms, goLeftVals, goLeftTicks, '#eaf7d6', '#4aa81c', 3.7, 6.2, [], 1276, 10.8, 165, ['0.6', '0.9', '1.2', '1.5'], 'url(#gG)', 192);
goChart('go-chart-right', 747, 27.3, goRightTerms, goRightVals, goRightTicks, '#fbe8c4', '#f2aa35', 4.8, 12, goRightMarked, 1278, 10.85, 872, ['3', '4', '5', '6', '7'], 'url(#gO)', 890);
</script>
</body></html>
